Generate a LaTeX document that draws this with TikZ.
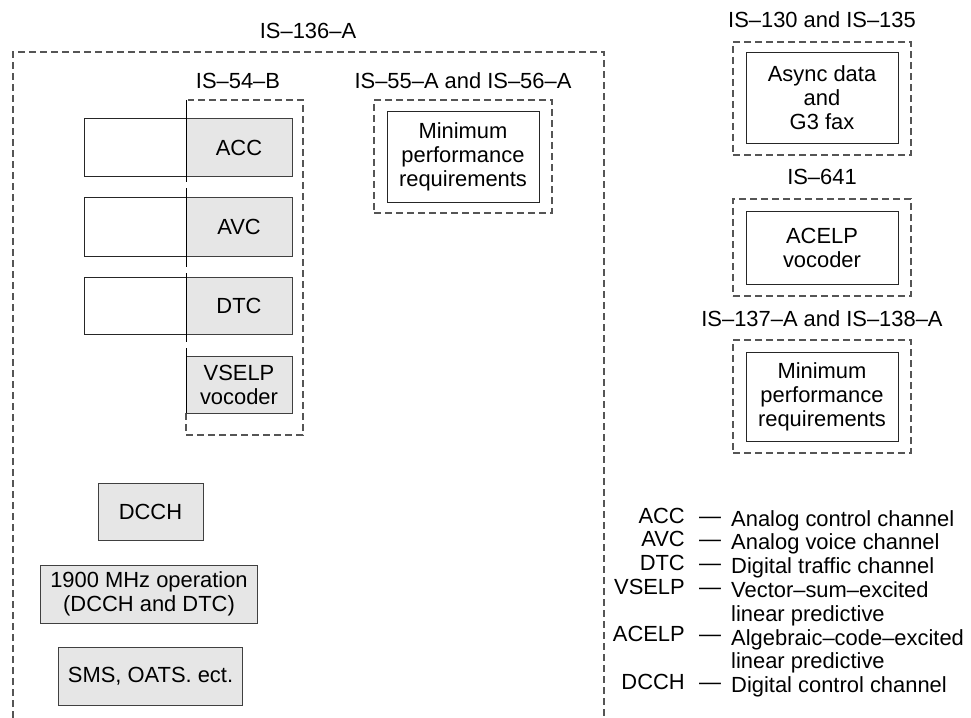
\documentclass[tikz,border=0pt]{standalone}
\usepackage{fontspec}
\setmainfont{Liberation Sans}
\definecolor{boxgray}{HTML}{E6E6E6}
\definecolor{dashgray}{HTML}{555555}
\begin{document}
\begin{tikzpicture}[x=1bp,y=-1bp,
  every node/.style={font=\fontsize{22}{24}\selectfont, inner sep=0pt, align=center},
  whitebox/.style={draw=black!85, line width=1bp, fill=white},
  graybox/.style={draw=black!75, line width=1bp, fill=boxgray},
  dashbox/.style={draw=dashgray, line width=1.1bp, dash pattern=on 7bp off 4bp},
  dashline/.style={draw=dashgray, line width=1.1bp, dash pattern=on 7bp off 4bp},
  lbl/.style={anchor=base},
  abbr/.style={anchor=base east},
  desc/.style={anchor=base west}]
\useasboundingbox (0,0) rectangle (971,718);

% outer IS-136-A (open at bottom)
\draw[dashline] (13,718) -- (13,52) -- (604,52) -- (604,718);
\node[lbl] (l136) at (308,39) {IS–136–A};

% IS-54-B box
\node[lbl] (l54) at (238,89) {IS–54–B};
\draw[dashline] (186,413) -- (186,435) -- (303,435) -- (303,100) -- (188,100);

% rows
\node[whitebox, minimum width=102bp, minimum height=57bp] (accL) at (135,147.5) {};
\node[graybox, minimum width=106bp, minimum height=57bp] (acc) at (239,147.5) {ACC};
\node[whitebox, minimum width=102bp, minimum height=58bp] (avcL) at (135,227) {};
\node[graybox, minimum width=106bp, minimum height=58bp] (avc) at (239,227) {AVC};
\node[whitebox, minimum width=102bp, minimum height=57bp] (dtcL) at (135,305.5) {};
\node[graybox, minimum width=106bp, minimum height=57bp] (dtc) at (239,305.5) {DTC};
\node[graybox, minimum width=106bp, minimum height=57bp] (vselp) at (239,384.5) {VSELP\\vocoder};

% solid left edge segments of IS-54-B
\draw[black, line width=1bp] (186,100) -- (186,182);
\draw[black, line width=1bp] (186,188) -- (186,267);
\draw[black, line width=1bp] (186,273) -- (186,342);
\draw[black, line width=1bp] (186,348) -- (186,413);

% IS-55-A and IS-56-A
\node[lbl] (l55) at (463,89) {IS–55–A and IS–56–A};
\node[dashbox, minimum width=178bp, minimum height=113bp] (d55) at (463,156.5) {};
\node[whitebox, minimum width=152bp, minimum height=90bp] (mpr1) at (463,157) {Minimum\\performance\\requirements};

% lower left boxes
\node[graybox, minimum width=105bp, minimum height=57bp] (dcch) at (150.5,511.5) {DCCH};
\node[graybox, minimum width=216bp, minimum height=58bp] (mhz) at (149,594) {1900 MHz operation\\(DCCH and DTC)};
\node[graybox, minimum width=183bp, minimum height=58bp] (sms) at (150.5,676) {SMS, OATS. ect.};

% right column
\node[lbl] (l130) at (822,28) {IS–130 and IS–135};
\node[dashbox, minimum width=178bp, minimum height=113bp] (d130) at (822,98.5) {};
\node[whitebox, minimum width=152bp, minimum height=90bp] (async) at (822,98) {Async data\\and\\G3 fax};

\node[lbl] (l641) at (822,185) {IS–641};
\node[dashbox, minimum width=178bp, minimum height=97bp] (d641) at (822,247.5) {};
\node[whitebox, minimum width=152bp, minimum height=73bp] (acelp) at (822,247.5) {ACELP\\vocoder};

\node[lbl] (l137) at (822,326) {IS–137–A and IS–138–A};
\node[dashbox, minimum width=178bp, minimum height=113bp] (d137) at (822,396.5) {};
\node[whitebox, minimum width=152bp, minimum height=89bp] (mpr2) at (822,396.5) {Minimum\\performance\\requirements};

% legend
\node[abbr] (gacc) at (685,523.5) {ACC};
\node[abbr] (gavc) at (685,546.5) {AVC};
\node[abbr] (gdtc) at (685,570.5) {DTC};
\node[abbr] (gvselp) at (685,594.5) {VSELP};
\node[abbr] (gacelp) at (685,641.5) {ACELP};
\node[abbr] (gdcch) at (685,689.5) {DCCH};

\node[desc] (m1) at (699,523.5) {—};
\node[desc] (m2) at (699,546.5) {—};
\node[desc] (m3) at (699,570.5) {—};
\node[desc] (m4) at (699,594.5) {—};
\node[desc] (m5) at (699,641.5) {—};
\node[desc] (m6) at (699,689.5) {—};

\node[desc] (t1) at (731,526) {Analog control channel};
\node[desc] (t2) at (731,549.8) {Analog voice channel};
\node[desc] (t3) at (731,573.6) {Digital traffic channel};
\node[desc] (t4) at (731,597.4) {Vector–sum–excited};
\node[desc] (t5) at (731,621.2) {linear predictive};
\node[desc] (t6) at (731,645) {Algebraic–code–excited};
\node[desc] (t7) at (731,668.8) {linear predictive};
\node[desc] (t8) at (731,692.6) {Digital control channel};
\end{tikzpicture}
\end{document}
